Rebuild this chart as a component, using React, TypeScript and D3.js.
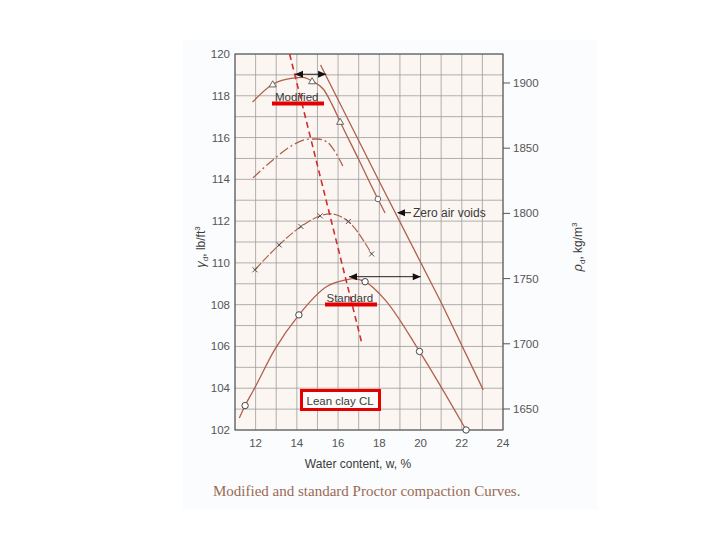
import React from 'react';
import * as d3 from 'd3';

// Axis ticks
const xTickLabels = [12, 14, 16, 18, 20, 22, 24];
const yTickLabels = [102, 104, 106, 108, 110, 112, 114, 116, 118, 120];
const rhoTickLabels = [1650, 1700, 1750, 1800, 1850, 1900];

// Modified Proctor curve (solid)
const modCurveW = [11.85, 12.83, 13.8, 14.3, 14.74, 15.3, 15.7, 16.1, 17.0, 17.93, 18.28];
const modCurveGd = [117.7, 118.55, 118.85, 118.88, 118.7, 118.3, 117.6, 116.76, 114.95, 113.06, 112.39];
const modTriW = [12.83, 14.74, 16.1];
const modTriGd = [118.55, 118.7, 116.76];
const modCircW = [17.93];
const modCircGd = [113.06];

// Intermediate effort curve (dash-dot)
const ddW = [11.87, 12.84, 13.8, 14.64, 15.0, 15.45, 15.8, 16.23];
const ddGd = [114.07, 114.93, 115.64, 115.93, 115.93, 115.8, 115.4, 114.64];

// Intermediate effort curve (dashed, x markers)
const xCurveW = [11.97, 13.14, 14.2, 15.13, 15.6, 16.5, 17.63];
const xCurveGd = [109.67, 110.86, 111.74, 112.25, 112.35, 111.98, 110.43];
const xPtsW = [11.97, 13.14, 14.2, 15.13, 16.5, 17.63];
const xPtsGd = [109.67, 110.86, 111.74, 112.25, 111.98, 110.43];

// Standard Proctor curve (solid, circles)
const stdCurveW = [11.21, 11.49, 11.89, 12.94, 14.1, 15.45, 16.42, 16.7, 17.31, 18.28, 19.95, 22.21];
const stdCurveGd = [102.57, 103.17, 103.89, 105.87, 107.51, 108.87, 109.2, 109.25, 109.1, 108.23, 105.76, 102.0];
const stdPtsW = [11.49, 14.1, 17.31, 19.95, 22.21];
const stdPtsGd = [103.17, 107.51, 109.1, 105.76, 102.0];

// Zero air voids line
const zavW = [15.15, 18.0, 21.0, 23.04];
const zavGd = [119.47, 113.9, 108.1, 103.92];

// Line of optimums (red dashed)
const optW = [13.65, 17.17];
const optGd = [120.0, 106.08];

// Shift arrows
const modArrowW = [13.91, 15.42];
const modArrowGd = 119.03;
const stdArrowW = [16.53, 20.01];
const stdArrowGd = 109.34;

const KG_PER_PCF = 16.0185;

const zip = (a: number[], b: number[]) => a.map((v, i) => [v, b[i]] as [number, number]);

export default function App() {
  const x = d3.scaleLinear().domain([11, 24]).range([235, 503]);
  const y = d3.scaleLinear().domain([102, 120]).range([430, 54]);
  const yR = d3.scaleLinear().domain([102 * KG_PER_PCF, 120 * KG_PER_PCF]).range([430, 54]);
  const smooth = d3.line<[number, number]>().x(d => x(d[0])).y(d => y(d[1])).curve(d3.curveMonotoneX);
  const straight = d3.line<[number, number]>().x(d => x(d[0])).y(d => y(d[1]));

  const curveColor = '#b0604a';
  const textColor = '#3a3a3a';
  const tickColor = '#555';
  const font = 'Liberation Sans, Arial, sans-serif';

  const tri = (cx: number, cy: number, s = 3.5) =>
    `M${cx},${cy - s} L${cx + s},${cy + s * 0.75} L${cx - s},${cy + s * 0.75} Z`;

  const arrowHead = (tipX: number, tipY: number, dir: number) =>
    `M${tipX},${tipY} L${tipX - dir * 8},${tipY - 3.5} L${tipX - dir * 8},${tipY + 3.5} Z`;

  const x0 = x.range()[0], x1 = x.range()[1];
  const y0 = y.range()[1], y1 = y.range()[0];

  return (
    <svg width={720} height={540} style={{ position: 'absolute', left: 0, top: 0, background: '#fff' }}>
      <rect x={183} y={40} width={415} height={470} fill="#fbfcfd" />
      <rect x={x0} y={y0} width={x1 - x0} height={y1 - y0} fill="#fcf6f2" />
      {/* grid */}
      {d3.range(11, 25).map(v => (
        <line key={'gx' + v} x1={x(v)} x2={x(v)} y1={y0} y2={y1} stroke="#9c9c9c" strokeWidth={0.8} />
      ))}
      {d3.range(102, 121).map(v => (
        <line key={'gy' + v} x1={x0} x2={x1} y1={y(v)} y2={y(v)} stroke="#9c9c9c" strokeWidth={0.8} />
      ))}
      <rect x={x0} y={y0} width={x1 - x0} height={y1 - y0} fill="none" stroke="#4a4a4a" strokeWidth={1} />

      {/* left axis labels */}
      {yTickLabels.map(v => (
        <text key={'yl' + v} x={230} y={y(v) + 4} textAnchor="end" fontFamily={font} fontSize={11.5} fill={tickColor}>{v}</text>
      ))}
      {/* bottom axis labels */}
      {xTickLabels.map(v => (
        <text key={'xl' + v} x={x(v)} y={447} textAnchor="middle" fontFamily={font} fontSize={11.5} fill={tickColor}>{v}</text>
      ))}
      {/* right axis */}
      {rhoTickLabels.map(v => (
        <g key={'rl' + v}>
          <line x1={x1} x2={x1 + 7} y1={yR(v)} y2={yR(v)} stroke="#555" strokeWidth={1} />
          <text x={513} y={yR(v) + 4} fontFamily={font} fontSize={11.5} fill={tickColor}>{v}</text>
        </g>
      ))}

      {/* axis titles */}
      <text x={358} y={468} textAnchor="middle" fontFamily={font} fontSize={12} fill={textColor}>Water content, w, %</text>
      <text transform="translate(205,247) rotate(-90)" textAnchor="middle" fontFamily={font} fontSize={12} fill={textColor}>
        <tspan fontStyle="italic" fontSize={13}>γ</tspan><tspan fontSize={8} dy={3}>d</tspan><tspan dy={-3}>, lb/ft</tspan><tspan fontSize={8} dy={-5}>3</tspan>
      </text>
      <text transform="translate(582,247) rotate(-90)" textAnchor="middle" fontFamily={font} fontSize={12} fill={textColor}>
        <tspan fontStyle="italic" fontSize={13}>ρ</tspan><tspan fontSize={8} dy={3}>d</tspan><tspan dy={-3}>, kg/m</tspan><tspan fontSize={8} dy={-5}>3</tspan>
      </text>

      {/* curves */}
      <path d={straight(zip(zavW, zavGd)) || ''} fill="none" stroke={curveColor} strokeWidth={1.3} />
      <path d={smooth(zip(modCurveW, modCurveGd)) || ''} fill="none" stroke={curveColor} strokeWidth={1.3} />
      <path d={smooth(zip(ddW, ddGd)) || ''} fill="none" stroke={curveColor} strokeWidth={1.3} strokeDasharray="10,3,2,3" />
      <path d={smooth(zip(xCurveW, xCurveGd)) || ''} fill="none" stroke={curveColor} strokeWidth={1.2} strokeDasharray="9,2" />
      <path d={smooth(zip(stdCurveW, stdCurveGd)) || ''} fill="none" stroke={curveColor} strokeWidth={1.3} />
      <path d={straight(zip(optW, optGd)) || ''} fill="none" stroke="#d42c2c" strokeWidth={1.6} strokeDasharray="6,4" />

      {/* markers */}
      {zip(modTriW, modTriGd).map((p, i) => (
        <path key={'mt' + i} d={tri(x(p[0]), y(p[1]))} fill="#fff" stroke="#555" strokeWidth={0.9} />
      ))}
      {zip(modCircW, modCircGd).map((p, i) => (
        <circle key={'mc' + i} cx={x(p[0])} cy={y(p[1])} r={2.8} fill="#fff" stroke="#555" strokeWidth={0.9} />
      ))}
      {zip(xPtsW, xPtsGd).map((p, i) => (
        <g key={'xp' + i} stroke="#444" strokeWidth={0.9}>
          <line x1={x(p[0]) - 2.5} x2={x(p[0]) + 2.5} y1={y(p[1]) - 2.5} y2={y(p[1]) + 2.5} />
          <line x1={x(p[0]) - 2.5} x2={x(p[0]) + 2.5} y1={y(p[1]) + 2.5} y2={y(p[1]) - 2.5} />
        </g>
      ))}
      {zip(stdPtsW, stdPtsGd).map((p, i) => (
        <circle key={'sp' + i} cx={x(p[0])} cy={y(p[1])} r={3.2} fill="#fff" stroke="#444" strokeWidth={1} />
      ))}

      {/* shift arrows */}
      <line x1={x(modArrowW[0])} x2={x(modArrowW[1])} y1={y(modArrowGd)} y2={y(modArrowGd)} stroke="#222" strokeWidth={1} />
      <path d={arrowHead(x(modArrowW[0]), y(modArrowGd), -1)} fill="#111" />
      <path d={arrowHead(x(modArrowW[1]), y(modArrowGd), 1)} fill="#111" />
      <line x1={x(stdArrowW[0])} x2={x(stdArrowW[1])} y1={y(stdArrowGd)} y2={y(stdArrowGd)} stroke="#222" strokeWidth={1} />
      <path d={arrowHead(x(stdArrowW[0]), y(stdArrowGd), -1)} fill="#111" />
      <path d={arrowHead(x(stdArrowW[1]), y(stdArrowGd), 1)} fill="#111" />

      {/* Zero air voids annotation */}
      <line x1={398} x2={411} y1={212.7} y2={212.7} stroke="#222" strokeWidth={1} />
      <path d={arrowHead(397, 212.7, -1)} fill="#111" />
      <text x={413} y={217} fontFamily={font} fontSize={12} fill={textColor}>Zero air voids</text>

      {/* labels with red underline */}
      <text x={275} y={100.5} fontFamily={font} fontSize={11.5} fill={textColor}>Modified</text>
      <rect x={272} y={101.5} width={52} height={4} fill="#e40000" />
      <text x={326.5} y={301.5} fontFamily={font} fontSize={11.5} fill={textColor}>Standard</text>
      <rect x={325} y={302.5} width={52} height={4} fill="#e40000" />

      {/* Lean clay box */}
      <rect x={301.5} y={390.5} width={78} height={19} fill="#fdfafa" stroke="#e40000" strokeWidth={3} />
      <text x={306.5} y={404.5} fontFamily={font} fontSize={11.5} fill={textColor}>Lean clay CL</text>

      {/* caption */}
      <text x={213} y={496} fontFamily="Liberation Serif, Times New Roman, serif" fontSize={15} fill="#9a6a55">Modified and standard Proctor compaction Curves.</text>
    </svg>
  );
}
